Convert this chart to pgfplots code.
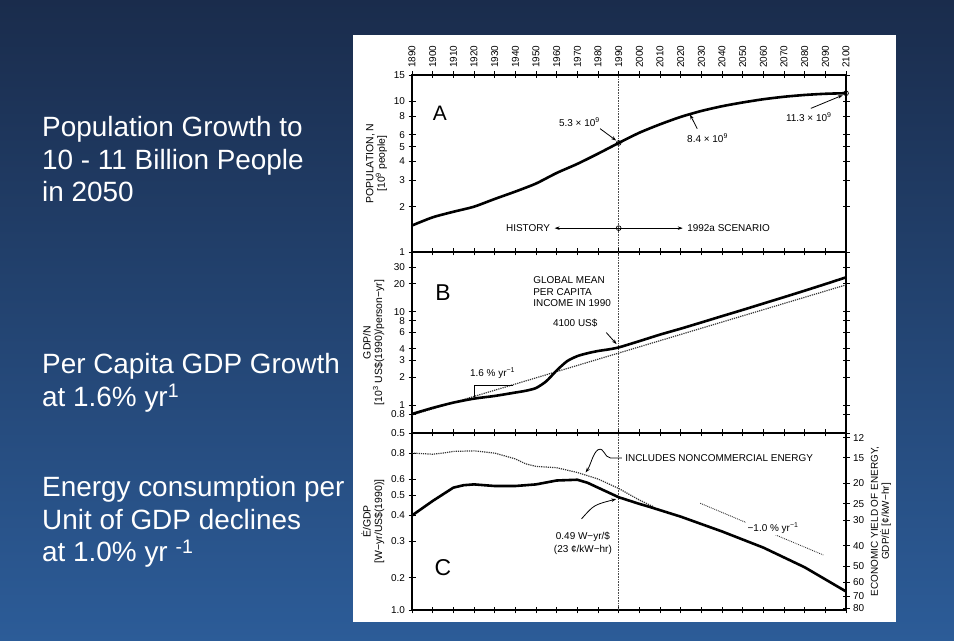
\documentclass[border=0pt]{standalone}
\usepackage{fontspec}
\setmainfont{Liberation Sans}
\usepackage{pgfplots}
\pgfplotsset{compat=1.18}
\usetikzlibrary{arrows.meta}

\definecolor{bgtop}{RGB}{26,44,76}
\definecolor{bgbot}{RGB}{44,92,152}

\tikzset{
  thickcurve/.style={black, line width=2.6bp, line join=round},
  dotcurve/.style={black!80, densely dotted, line width=1.2bp},
  refline/.style={densely dotted, black!70, line width=0.6bp},
  ann/.style={font=\fontsize{10}{11.5}\selectfont},
  arr/.style={-{Stealth[length=5bp,width=3.5bp]}, line width=0.8bp},
}
\pgfplotsset{
  every axis/.append style={
    scale only axis, width=434bp,
    xmin=1890, xmax=2100,
    xtick={1890,1900,...,2100},
    tick align=center, major tick length=7bp,
    axis line style={line width=1.4bp},
    tick style={black, line width=0.9bp},
    tick label style={font=\fontsize{10}{11}\selectfont},
    label style={font=\fontsize{10.5}{11.5}\selectfont, align=center},
    clip=false,
  },
}

\begin{document}
\begin{tikzpicture}[x=1bp,y=1bp]
\useasboundingbox (0,0) rectangle (954,641);
\shade[top color=bgtop, bottom color=bgbot] (0,0) rectangle (954,641);
\fill[white] (353,19) rectangle (896,606);

% slide text
\begin{scope}[every node/.style={anchor=base west, text=white, inner sep=0pt, font=\fontsize{28}{33}\selectfont}]
\node at (42,504) {Population Growth to};
\node at (42,471) {10 - 11 Billion People};
\node at (42,439) {in 2050};
\node at (42,267) {Per Capita GDP Growth};
\node at (42,234) {at 1.6\% yr\textsuperscript{1}};
\node at (42,144) {Energy consumption per};
\node at (42,111) {Unit of GDP declines};
\node at (42,79) {at 1.0\% yr \textsuperscript{-1}};
\end{scope}

% A: population
\begin{axis}[at={(412bp,389bp)}, anchor=south west, height=177bp,
  ymode=log, ymin=1, ymax=15,
  ytick={1,2,3,4,5,6,8,10,15}, yticklabels={1,2,3,4,5,6,8,10,15},
  xticklabel pos=upper,
  xticklabel={\pgfmathprintnumber[1000 sep={},assume math mode=true]{\tick}},
  xticklabel style={rotate=90, anchor=west},
  ylabel={POPULATION, N\\{}[10\textsuperscript{9} people]}]
\addplot[refline] coordinates {(1990,1) (1990,15)};
\addplot[thickcurve, smooth, tension=0.4] coordinates {
  (1890,1.50) (1900,1.70) (1910,1.85) (1920,2.00) (1930,2.25) (1940,2.52)
  (1950,2.85) (1960,3.35) (1970,3.85) (1980,4.50) (1990,5.30) (2000,6.20)
  (2010,7.05) (2020,7.90) (2030,8.65) (2040,9.30) (2050,9.85) (2060,10.35)
  (2070,10.75) (2080,11.05) (2090,11.25) (2100,11.35)};
\addplot[only marks, mark=o, mark size=2.4bp, mark options={fill=white, line width=0.7bp}]
  coordinates {(1990,5.3) (2100,11.35) (1990,1.44)};
\node[font=\fontsize{21}{23}\selectfont] at (axis cs:1903.5,8.3) {A};
\node[ann] at (axis cs:1971,7.3) {5.3 × 10\textsuperscript{9}};
\draw[arr] (axis cs:1981,6.6) -- (axis cs:1988.8,5.5);
\node[ann] at (axis cs:2033,5.7) {8.4 × 10\textsuperscript{9}};
\draw[arr] (axis cs:2028,6.6) -- (axis cs:2024.5,8.2);
\node[ann] at (axis cs:2082,7.9) {11.3 × 10\textsuperscript{9}};
\draw[arr] (axis cs:2083,9.0) .. controls (axis cs:2090,10.0) .. (axis cs:2098.5,11.0);
\draw[arr] (axis cs:1990,1.44) -- (axis cs:1959,1.44);
\draw[arr] (axis cs:1990,1.44) -- (axis cs:2021,1.44);
\node[ann, anchor=east] at (axis cs:1958.5,1.44) {HISTORY};
\node[ann, anchor=west] at (axis cs:2021.5,1.44) {1992a SCENARIO};
\end{axis}

% B: GDP per capita
\begin{axis}[at={(412bp,208bp)}, anchor=south west, height=181bp,
  ymode=log, ymin=0.5, ymax=44, xticklabels={},
  ytick={0.5,0.8,1,2,3,4,6,8,10,20,30},
  yticklabels={0.5,0.8,1,2,3,4,6,8,10,20,30},
  ylabel={GDP/N\\{}[10\textsuperscript{3} US\$(1990)/person−yr]}]
\addplot[refline] coordinates {(1990,0.5) (1990,44)};
\addplot[dotcurve] coordinates {(1890,0.78) (2100,19.5)};
\addplot[thickcurve, smooth, tension=0.4] coordinates {
  (1890,0.80) (1900,0.93) (1910,1.06) (1920,1.17) (1930,1.25) (1940,1.36)
  (1945,1.42) (1950,1.52) (1955,1.80) (1960,2.35) (1965,2.95) (1970,3.35)
  (1975,3.60) (1980,3.80) (1985,3.95) (1990,4.15) (2000,4.85) (2010,5.70)
  (2020,6.60) (2030,7.70) (2040,9.00) (2050,10.5) (2060,12.3) (2070,14.4)
  (2080,16.9) (2090,19.9) (2100,23.5)};
\node[font=\fontsize{23}{25}\selectfont] at (axis cs:1905,16) {B};
\node[ann, align=left, anchor=north west] at (axis cs:1947,26) {GLOBAL MEAN\\PER CAPITA\\INCOME IN 1990};
\node[ann] at (axis cs:1969,7.6) {4100 US\$};
\draw[arr] (axis cs:1984,6.0) -- (axis cs:1989,4.5);
\node[ann] at (axis cs:1929,2.2) {1.6 \% yr\textsuperscript{−1}};
\draw[line width=0.7bp] (axis cs:1920,1.23) -- (axis cs:1920,1.64) -- (axis cs:1939,1.64);
\end{axis}

% C: energy intensity
\begin{axis}[at={(412bp,31bp)}, anchor=south west, height=177bp,
  ymode=log, ymin=0.14, ymax=1.0, xticklabels={}, ytick pos=left,
  ytick={0.14,0.2,0.3,0.4,0.5,0.6,0.8},
  yticklabels={1.0,0.2,0.3,0.4,0.5,0.6,0.8},
  ylabel={Ė/GDP\\{}[W−yr/US\$(1990)]}]
\addplot[refline] coordinates {(1990,0.14) (1990,1.0)};
\addplot[dotcurve] coordinates {
  (1890,0.80) (1900,0.79) (1905,0.80) (1910,0.815) (1920,0.82) (1930,0.80)
  (1940,0.75) (1945,0.71) (1950,0.69) (1960,0.68) (1970,0.645) (1980,0.60)
  (1990,0.54) (2000,0.475) (2007,0.44)};
\addplot[thickcurve] coordinates {
  (1890,0.40) (1900,0.47) (1910,0.545) (1915,0.56) (1920,0.565) (1930,0.555)
  (1940,0.555) (1950,0.565) (1960,0.59) (1970,0.595) (1975,0.575) (1980,0.545)
  (1990,0.49) (2000,0.455) (2005,0.44) (2020,0.395) (2040,0.335) (2060,0.28)
  (2080,0.225) (2100,0.172)};
\addplot[dotcurve, line width=0.9bp] coordinates {(2029.5,0.458) (2089,0.258)};
\node[font=\fontsize{23}{25}\selectfont] at (axis cs:1905,0.223) {C};
\node[ann, anchor=west] at (axis cs:1991.5,0.758) {INCLUDES NONCOMMERCIAL ENERGY};
\draw[arr] (axis cs:1991.5,0.758) -- (axis cs:1986,0.758)
  .. controls (axis cs:1983,0.76) and (axis cs:1983,0.86) .. (axis cs:1980,0.83)
  .. controls (axis cs:1977.5,0.80) and (axis cs:1976.5,0.70) .. (axis cs:1974,0.645);
\node[ann] at (axis cs:1972.7,0.314) {0.49 W−yr/\$};
\node[ann] at (axis cs:1972.7,0.272) {(23 ¢/kW−hr)};
\draw[arr] (axis cs:1972,0.385) .. controls (axis cs:1978,0.45) .. (axis cs:1988.8,0.48);
\node[ann, fill=white, inner sep=1.5bp] at (axis cs:2064.7,0.347) {−1.0 \% yr\textsuperscript{−1}};
\end{axis}

% C right-hand scale: economic yield of energy
\begin{axis}[at={(412bp,31bp)}, anchor=south west, height=177bp,
  ymode=log, ymin=0.14, ymax=1.0, axis x line=none, axis y line*=right,
  ytick={0.9508,0.7607,0.5705,0.4564,0.3803,0.2853,0.2282,0.1902,0.1630,0.1426},
  yticklabels={12,15,20,25,30,40,50,60,70,80},
  ylabel near ticks,
  ylabel style={align=center, font=\fontsize{10}{11}\selectfont},
  ylabel={ECONOMIC YIELD OF ENERGY,\\GDP/Ė [¢/kW−hr]}]
\end{axis}
\end{tikzpicture}
\end{document}
